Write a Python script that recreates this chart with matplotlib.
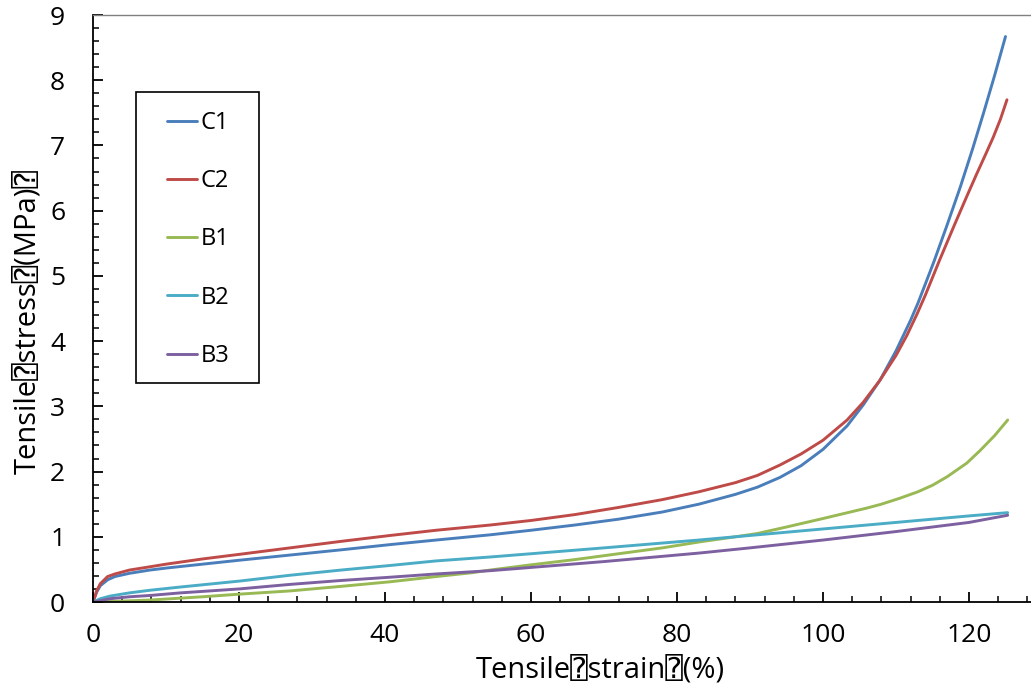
import matplotlib
matplotlib.use("Agg")
import matplotlib.pyplot as plt
from matplotlib.ticker import MultipleLocator
from matplotlib.patches import Rectangle

plt.rcParams['font.family'] = ['Open Sans', 'DejaVu Sans', 'DejaVu Sans Mono']

# Data
c1_x = [0, 0.5, 1, 2, 3, 5, 7.8, 10, 15, 20, 27, 34, 40.7, 47, 54.4, 60, 66, 72, 78, 83, 88, 91, 94.1, 97, 100,
        103.3, 105.5, 107.8, 110, 112, 113, 114, 115.2, 117, 118.8, 120.5, 122, 123.5, 125]
c1_y = [0, 0.15, 0.25, 0.34, 0.39, 0.44, 0.49, 0.52, 0.58, 0.64, 0.72, 0.80, 0.88, 0.95, 1.03, 1.10, 1.18, 1.27, 1.38,
        1.50, 1.65, 1.76, 1.91, 2.09, 2.34, 2.70, 3.02, 3.40, 3.85, 4.32, 4.58, 4.87, 5.22, 5.78, 6.36, 6.95, 7.50,
        8.07, 8.67]
c2_x = [0, 0.5, 1, 2, 3, 5, 7.8, 10, 15, 20, 27, 34, 40.7, 47, 54.4, 60, 66, 72, 78, 83, 88, 91, 94.1, 97, 100,
        103.3, 105.5, 107.8, 110, 111.5, 112.9, 114, 116, 118, 119.7, 121, 122.3, 123.3, 124.3, 125.2]
c2_y = [0, 0.17, 0.28, 0.39, 0.43, 0.49, 0.54, 0.58, 0.66, 0.73, 0.83, 0.93, 1.02, 1.10, 1.18, 1.25, 1.34, 1.45, 1.57,
        1.69, 1.83, 1.94, 2.10, 2.27, 2.48, 2.79, 3.06, 3.40, 3.78, 4.09, 4.42, 4.70, 5.25, 5.78, 6.22, 6.55, 6.87,
        7.12, 7.40, 7.70]
b1_x = [0, 3, 7.8, 15, 20, 27, 34, 40.7, 47, 52, 54.4, 60, 66, 72, 78, 83, 88, 91, 95, 100, 103, 106, 108, 110.5,
        113, 115, 117, 119.7, 121.5, 123.5, 125.3]
b1_y = [0, 0.01, 0.03, 0.08, 0.12, 0.17, 0.24, 0.31, 0.39, 0.45, 0.49, 0.57, 0.65, 0.74, 0.83, 0.92, 1.00, 1.05, 1.15,
        1.28, 1.36, 1.44, 1.50, 1.59, 1.69, 1.79, 1.92, 2.13, 2.32, 2.55, 2.79]
b2_x = [0, 1, 2.3, 5, 7.8, 12, 20, 27, 34, 40.7, 47, 54.4, 60, 70, 83, 90, 100, 110, 120, 125.3]
b2_y = [0, 0.05, 0.09, 0.14, 0.18, 0.23, 0.32, 0.41, 0.49, 0.56, 0.63, 0.69, 0.74, 0.83, 0.95, 1.02, 1.12, 1.22, 1.32,
        1.37]
b3_x = [0, 1, 2.3, 5, 7.8, 12, 20, 27, 34, 40.7, 47, 54.4, 60, 70, 83, 90, 100, 110, 120, 125.3]
b3_y = [0, 0.02, 0.05, 0.08, 0.10, 0.14, 0.20, 0.27, 0.33, 0.38, 0.43, 0.48, 0.53, 0.62, 0.75, 0.83, 0.95, 1.08, 1.22,
        1.33]

series = [
    ("C1", c1_x, c1_y, "#4A7EBB"),
    ("C2", c2_x, c2_y, "#BE4B48"),
    ("B1", b1_x, b1_y, "#98B954"),
    ("B2", b2_x, b2_y, "#4BACC6"),
    ("B3", b3_x, b3_y, "#7D60A0"),
]

W, H = 1031, 695
fig = plt.figure(figsize=(W/100, H/100), dpi=100)
ax = fig.add_axes([93/W, 93/H, (W-93)/W, (602-15)/H])

for name, xs, ys, col in series:
    ax.plot(xs, ys, color=col, lw=2.1, label=name, solid_capstyle='round', solid_joinstyle='round')

ax.set_xlim(0, (W-93)/7.3)
ax.set_ylim(0, 9)
ax.xaxis.set_major_locator(MultipleLocator(20))
ax.xaxis.set_minor_locator(MultipleLocator(4))
ax.yaxis.set_major_locator(MultipleLocator(1))
ax.yaxis.set_minor_locator(MultipleLocator(0.2))
ax.tick_params(which='major', direction='in', length=7, width=1.3, labelsize=19, color='black')
ax.tick_params(which='minor', direction='in', length=4, width=1.1, color='black')
ax.tick_params(axis='x', pad=15)
ax.tick_params(axis='y', pad=20)

ax.spines['right'].set_visible(False)
ax.spines['top'].set_color('#808080')
ax.spines['top'].set_linewidth(1.0)
ax.spines['left'].set_linewidth(1.3)
ax.spines['bottom'].set_linewidth(1.3)

ax.set_xlabel("Tensile\u2370strain\u2370(%)", fontsize=21)
ax.set_ylabel("Tensile\u2370stress\u2370(MPa)\u2370", fontsize=21)
ax.xaxis.set_label_coords((600-93)/938, -(655-602)/587)
ax.yaxis.set_label_coords((42-93)/938, (602-322)/587)

# legend frame drawn separately
fig.patches.append(Rectangle((136/W, 1-383/H), (259-136)/W, (383-92)/H, transform=fig.transFigure,
                             facecolor='white', edgecolor='black', linewidth=1.2, zorder=5))
leg = fig.legend(loc='upper left', bbox_to_anchor=(167/W, 1-111/H), fontsize=17,
                 frameon=False, borderaxespad=0, borderpad=0, handlelength=1.27,
                 labelspacing=1.45, handletextpad=0.15)
leg.set_zorder(6)

fig.savefig("out.png", dpi=100)
